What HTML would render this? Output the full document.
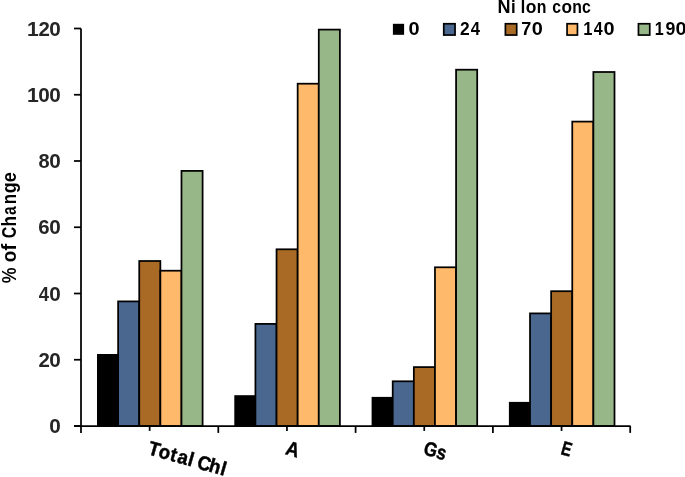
<!DOCTYPE html>
<html><head><meta charset="utf-8"><title>chart</title><style>html,body{margin:0;padding:0;background:#fff}body{width:685px;height:477px;overflow:hidden;font-family:"Liberation Sans",sans-serif}</style></head><body>
<svg width="685" height="477" viewBox="0 0 685 477" style="display:block">
<rect width="685" height="477" fill="#fff"/>
<rect x="97.00" y="354.00" width="21.12" height="72.00" fill="#000"/>
<rect x="118.12" y="301.40" width="21.12" height="124.60" fill="#4a6790" stroke="#000" stroke-width="1.75"/>
<rect x="139.24" y="261.00" width="21.12" height="165.00" fill="#a96a25" stroke="#000" stroke-width="1.75"/>
<rect x="160.36" y="270.70" width="21.12" height="155.30" fill="#ffb96b" stroke="#000" stroke-width="1.75"/>
<rect x="181.48" y="170.90" width="21.12" height="255.10" fill="#98b788" stroke="#000" stroke-width="1.75"/>
<rect x="234.30" y="395.20" width="21.12" height="30.80" fill="#000"/>
<rect x="255.42" y="323.90" width="21.12" height="102.10" fill="#4a6790" stroke="#000" stroke-width="1.75"/>
<rect x="276.54" y="249.30" width="21.12" height="176.70" fill="#a96a25" stroke="#000" stroke-width="1.75"/>
<rect x="297.66" y="83.70" width="21.12" height="342.30" fill="#ffb96b" stroke="#000" stroke-width="1.75"/>
<rect x="318.78" y="29.60" width="21.12" height="396.40" fill="#98b788" stroke="#000" stroke-width="1.75"/>
<rect x="371.60" y="396.90" width="21.12" height="29.10" fill="#000"/>
<rect x="392.72" y="381.30" width="21.12" height="44.70" fill="#4a6790" stroke="#000" stroke-width="1.75"/>
<rect x="413.84" y="367.10" width="21.12" height="58.90" fill="#a96a25" stroke="#000" stroke-width="1.75"/>
<rect x="434.96" y="267.30" width="21.12" height="158.70" fill="#ffb96b" stroke="#000" stroke-width="1.75"/>
<rect x="456.08" y="69.70" width="21.12" height="356.30" fill="#98b788" stroke="#000" stroke-width="1.75"/>
<rect x="508.90" y="401.90" width="21.12" height="24.10" fill="#000"/>
<rect x="530.02" y="313.40" width="21.12" height="112.60" fill="#4a6790" stroke="#000" stroke-width="1.75"/>
<rect x="551.14" y="291.20" width="21.12" height="134.80" fill="#a96a25" stroke="#000" stroke-width="1.75"/>
<rect x="572.26" y="121.60" width="21.12" height="304.40" fill="#ffb96b" stroke="#000" stroke-width="1.75"/>
<rect x="593.38" y="72.00" width="21.12" height="354.00" fill="#98b788" stroke="#000" stroke-width="1.75"/>
<path d="M81.0 28.5V426.0" stroke="#000" stroke-width="1.75" fill="none"/>
<path d="M74.0 426.0H630.5" stroke="#000" stroke-width="1.75" fill="none"/>
<path d="M74.0 426.00H81.0" stroke="#000" stroke-width="1.75"/>
<path d="M74.0 359.75H81.0" stroke="#000" stroke-width="1.75"/>
<path d="M74.0 293.50H81.0" stroke="#000" stroke-width="1.75"/>
<path d="M74.0 227.25H81.0" stroke="#000" stroke-width="1.75"/>
<path d="M74.0 161.00H81.0" stroke="#000" stroke-width="1.75"/>
<path d="M74.0 94.75H81.0" stroke="#000" stroke-width="1.75"/>
<path d="M74.0 28.50H81.0" stroke="#000" stroke-width="1.75"/>
<path d="M81.00 426.0V432.9" stroke="#000" stroke-width="1.75"/>
<path d="M149.65 426.0V430.9" stroke="#000" stroke-width="1.75"/>
<path d="M218.30 426.0V432.9" stroke="#000" stroke-width="1.75"/>
<path d="M286.95 426.0V430.9" stroke="#000" stroke-width="1.75"/>
<path d="M355.60 426.0V432.9" stroke="#000" stroke-width="1.75"/>
<path d="M424.25 426.0V430.9" stroke="#000" stroke-width="1.75"/>
<path d="M492.90 426.0V432.9" stroke="#000" stroke-width="1.75"/>
<path d="M561.55 426.0V430.9" stroke="#000" stroke-width="1.75"/>
<path d="M630.20 426.0V432.9" stroke="#000" stroke-width="1.75"/>
<rect x="392.9" y="23.8" width="11.2" height="11.0" fill="#000"/>
<rect x="443.75" y="23.75" width="11.3" height="11.3" fill="#4a6790" stroke="#000" stroke-width="1.7"/>
<rect x="505.40" y="23.75" width="11.3" height="11.3" fill="#a96a25" stroke="#000" stroke-width="1.7"/>
<rect x="567.05" y="23.75" width="10.4" height="11.3" fill="#ffb96b" stroke="#000" stroke-width="1.7"/>
<rect x="638.45" y="23.75" width="11.3" height="11.3" fill="#98b788" stroke="#000" stroke-width="1.7"/>
<g opacity="0.9999">
<text transform="translate(49.13 433.10) rotate(0) scale(1.073 1)" font-family="Liberation Sans, sans-serif" font-weight="bold" font-size="19.3" fill="#262626" stroke="#262626" stroke-width="0">0</text>
<text transform="translate(38.39 366.85) rotate(0) scale(1.060 1)" font-family="Liberation Sans, sans-serif" font-weight="bold" font-size="19.3" fill="#262626" stroke="#262626" stroke-width="0">2</text>
<text transform="translate(49.13 366.85) rotate(0) scale(1.073 1)" font-family="Liberation Sans, sans-serif" font-weight="bold" font-size="19.3" fill="#262626" stroke="#262626" stroke-width="0">0</text>
<text transform="translate(38.82 300.60) rotate(0) scale(0.953 1)" font-family="Liberation Sans, sans-serif" font-weight="bold" font-size="19.3" fill="#262626" stroke="#262626" stroke-width="0">4</text>
<text transform="translate(49.13 300.60) rotate(0) scale(1.073 1)" font-family="Liberation Sans, sans-serif" font-weight="bold" font-size="19.3" fill="#262626" stroke="#262626" stroke-width="0">0</text>
<text transform="translate(38.35 234.35) rotate(0) scale(1.056 1)" font-family="Liberation Sans, sans-serif" font-weight="bold" font-size="19.3" fill="#262626" stroke="#262626" stroke-width="0">6</text>
<text transform="translate(49.13 234.35) rotate(0) scale(1.073 1)" font-family="Liberation Sans, sans-serif" font-weight="bold" font-size="19.3" fill="#262626" stroke="#262626" stroke-width="0">0</text>
<text transform="translate(38.47 168.10) rotate(0) scale(1.034 1)" font-family="Liberation Sans, sans-serif" font-weight="bold" font-size="19.3" fill="#262626" stroke="#262626" stroke-width="0">8</text>
<text transform="translate(49.13 168.10) rotate(0) scale(1.073 1)" font-family="Liberation Sans, sans-serif" font-weight="bold" font-size="19.3" fill="#262626" stroke="#262626" stroke-width="0">0</text>
<text transform="translate(26.92 101.85) rotate(0) scale(1.097 1)" font-family="Liberation Sans, sans-serif" font-weight="bold" font-size="19.3" fill="#262626" stroke="#262626" stroke-width="0">1</text>
<text transform="translate(38.28 101.85) rotate(0) scale(1.073 1)" font-family="Liberation Sans, sans-serif" font-weight="bold" font-size="19.3" fill="#262626" stroke="#262626" stroke-width="0">0</text>
<text transform="translate(49.13 101.85) rotate(0) scale(1.073 1)" font-family="Liberation Sans, sans-serif" font-weight="bold" font-size="19.3" fill="#262626" stroke="#262626" stroke-width="0">0</text>
<text transform="translate(26.92 35.60) rotate(0) scale(1.097 1)" font-family="Liberation Sans, sans-serif" font-weight="bold" font-size="19.3" fill="#262626" stroke="#262626" stroke-width="0">1</text>
<text transform="translate(38.39 35.60) rotate(0) scale(1.060 1)" font-family="Liberation Sans, sans-serif" font-weight="bold" font-size="19.3" fill="#262626" stroke="#262626" stroke-width="0">2</text>
<text transform="translate(49.13 35.60) rotate(0) scale(1.073 1)" font-family="Liberation Sans, sans-serif" font-weight="bold" font-size="19.3" fill="#262626" stroke="#262626" stroke-width="0">0</text>
<text transform="translate(15.60 283.14) rotate(-90) scale(0.912 1)" font-family="Liberation Sans, sans-serif" font-weight="bold" font-size="19.5" fill="#000" stroke="#000" stroke-width="0">%</text>
<text transform="translate(15.60 262.14) rotate(-90) scale(0.972 1)" font-family="Liberation Sans, sans-serif" font-weight="bold" font-size="19.5" fill="#000" stroke="#000" stroke-width="0">o</text>
<text transform="translate(15.60 250.44) rotate(-90) scale(1.016 1)" font-family="Liberation Sans, sans-serif" font-weight="bold" font-size="19.5" fill="#000" stroke="#000" stroke-width="0">f</text>
<text transform="translate(15.60 238.15) rotate(-90) scale(0.816 1)" font-family="Liberation Sans, sans-serif" font-weight="bold" font-size="19.5" fill="#000" stroke="#000" stroke-width="0">C</text>
<text transform="translate(15.60 226.40) rotate(-90) scale(0.878 1)" font-family="Liberation Sans, sans-serif" font-weight="bold" font-size="19.5" fill="#000" stroke="#000" stroke-width="0">h</text>
<text transform="translate(15.60 215.02) rotate(-90) scale(0.800 1)" font-family="Liberation Sans, sans-serif" font-weight="bold" font-size="19.5" fill="#000" stroke="#000" stroke-width="0">a</text>
<text transform="translate(15.60 204.32) rotate(-90) scale(0.871 1)" font-family="Liberation Sans, sans-serif" font-weight="bold" font-size="19.5" fill="#000" stroke="#000" stroke-width="0">n</text>
<text transform="translate(15.60 193.24) rotate(-90) scale(0.928 1)" font-family="Liberation Sans, sans-serif" font-weight="bold" font-size="19.5" fill="#000" stroke="#000" stroke-width="0">g</text>
<text transform="translate(15.60 182.21) rotate(-90) scale(0.935 1)" font-family="Liberation Sans, sans-serif" font-weight="bold" font-size="19.5" fill="#000" stroke="#000" stroke-width="0">e</text>
<text transform="translate(497.59 12.85) rotate(0) scale(0.969 1)" font-family="Liberation Sans, sans-serif" font-weight="bold" font-size="18.6" fill="#000" stroke="#000" stroke-width="0">N</text>
<text transform="translate(511.03 12.85) rotate(0) scale(0.901 1)" font-family="Liberation Sans, sans-serif" font-weight="bold" font-size="18.6" fill="#000" stroke="#000" stroke-width="0">i</text>
<text transform="translate(520.75 12.85) rotate(0) scale(0.850 1)" font-family="Liberation Sans, sans-serif" font-weight="bold" font-size="18.6" fill="#000" stroke="#000" stroke-width="0">I</text>
<text transform="translate(525.72 12.85) rotate(0) scale(0.939 1)" font-family="Liberation Sans, sans-serif" font-weight="bold" font-size="18.6" fill="#000" stroke="#000" stroke-width="0">o</text>
<text transform="translate(536.64 12.85) rotate(0) scale(0.850 1)" font-family="Liberation Sans, sans-serif" font-weight="bold" font-size="18.6" fill="#000" stroke="#000" stroke-width="0">n</text>
<text transform="translate(552.13 12.85) rotate(0) scale(0.850 1)" font-family="Liberation Sans, sans-serif" font-weight="bold" font-size="18.6" fill="#000" stroke="#000" stroke-width="0">c</text>
<text transform="translate(561.53 12.85) rotate(0) scale(0.928 1)" font-family="Liberation Sans, sans-serif" font-weight="bold" font-size="18.6" fill="#000" stroke="#000" stroke-width="0">o</text>
<text transform="translate(572.19 12.85) rotate(0) scale(0.850 1)" font-family="Liberation Sans, sans-serif" font-weight="bold" font-size="18.6" fill="#000" stroke="#000" stroke-width="0">n</text>
<text transform="translate(582.08 12.85) rotate(0) scale(0.850 1)" font-family="Liberation Sans, sans-serif" font-weight="bold" font-size="18.6" fill="#000" stroke="#000" stroke-width="0">c</text>
<text transform="translate(408.42 35.00) rotate(0) scale(1.120 1)" font-family="Liberation Sans, sans-serif" font-weight="bold" font-size="17.8" fill="#000" stroke="#000" stroke-width="0">0</text>
<text transform="translate(460.10 35.00) rotate(0) scale(0.980 1)" font-family="Liberation Sans, sans-serif" font-weight="bold" font-size="17.8" fill="#000" stroke="#000" stroke-width="0">2</text>
<text transform="translate(470.75 35.00) rotate(0) scale(0.933 1)" font-family="Liberation Sans, sans-serif" font-weight="bold" font-size="17.8" fill="#000" stroke="#000" stroke-width="0">4</text>
<text transform="translate(521.22 35.00) rotate(0) scale(1.018 1)" font-family="Liberation Sans, sans-serif" font-weight="bold" font-size="17.8" fill="#000" stroke="#000" stroke-width="0">7</text>
<text transform="translate(531.82 35.00) rotate(0) scale(1.120 1)" font-family="Liberation Sans, sans-serif" font-weight="bold" font-size="17.8" fill="#000" stroke="#000" stroke-width="0">0</text>
<text transform="translate(583.26 35.00) rotate(0) scale(0.930 1)" font-family="Liberation Sans, sans-serif" font-weight="bold" font-size="17.8" fill="#000" stroke="#000" stroke-width="0">1</text>
<text transform="translate(593.76 35.00) rotate(0) scale(0.902 1)" font-family="Liberation Sans, sans-serif" font-weight="bold" font-size="17.8" fill="#000" stroke="#000" stroke-width="0">4</text>
<text transform="translate(603.52 35.00) rotate(0) scale(1.120 1)" font-family="Liberation Sans, sans-serif" font-weight="bold" font-size="17.8" fill="#000" stroke="#000" stroke-width="0">0</text>
<text transform="translate(654.68 35.00) rotate(0) scale(0.905 1)" font-family="Liberation Sans, sans-serif" font-weight="bold" font-size="17.8" fill="#000" stroke="#000" stroke-width="0">1</text>
<text transform="translate(665.48 35.00) rotate(0) scale(0.997 1)" font-family="Liberation Sans, sans-serif" font-weight="bold" font-size="17.8" fill="#000" stroke="#000" stroke-width="0">9</text>
<text transform="translate(675.62 35.00) rotate(0) scale(1.120 1)" font-family="Liberation Sans, sans-serif" font-weight="bold" font-size="17.8" fill="#000" stroke="#000" stroke-width="0">0</text>
<text transform="translate(147.1 453.9) rotate(16) scale(0.94 1)" x="0.00 11.60 24.15 32.23 43.83 49.57 54.04 67.02 79.79" font-family="Liberation Sans, sans-serif" font-weight="bold" font-size="19.8" fill="#000" stroke="#000" stroke-width="0.45">Total Chl</text>
<text transform="translate(284.5 454.1) rotate(16)" font-family="Liberation Sans, sans-serif" font-weight="bold" font-size="20.3" fill="#000" stroke="#000" stroke-width="0.45" textLength="13.3" lengthAdjust="spacingAndGlyphs">A</text>
<text transform="translate(422.5 454.0) rotate(16)" font-family="Liberation Sans, sans-serif" font-weight="bold" font-size="19.8" fill="#000" stroke="#000" stroke-width="0.45" textLength="22.8" lengthAdjust="spacingAndGlyphs">Gs</text>
<text transform="translate(560.0 454.1) rotate(16)" font-family="Liberation Sans, sans-serif" font-weight="bold" font-size="19.8" fill="#000" stroke="#000" stroke-width="0.45" textLength="10.0" lengthAdjust="spacingAndGlyphs">E</text>
</g></svg>
</body></html>
